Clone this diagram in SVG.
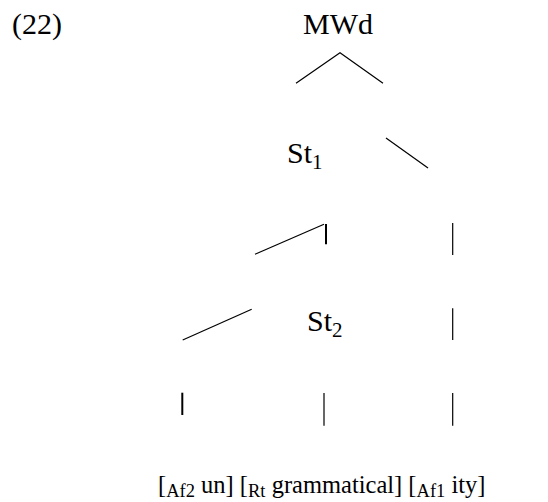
<svg xmlns="http://www.w3.org/2000/svg" width="548" height="502" viewBox="0 0 548 502">
<style>
.t{font-family:"Liberation Serif","Times New Roman",serif;font-size:30px;fill:#000}
.b{font-family:"Liberation Serif","Times New Roman",serif;font-size:24.5px;fill:#000}
.sub{font-size:21px}
.sb{font-size:18.5px}
.ln{stroke:#000;stroke-width:1.2;fill:none}
.tk{stroke:#000;stroke-width:2;fill:none}
</style>
<rect width="548" height="502" fill="#fff"/>
<g id="label"><text class="t" x="12" y="34">(22)</text></g>
<g id="mwd"><text class="t" x="338" y="34" text-anchor="middle">MWd</text></g>
<g id="st1"><text class="t" x="287" y="163">St<tspan class="sub" dy="6">1</tspan></text></g>
<g id="st2"><text class="t" x="307" y="331">St<tspan class="sub" dy="6">2</tspan></text></g>
<g id="bottom"><text class="b" x="158" y="493">[<tspan class="sb" dy="4">Af2</tspan><tspan dy="-4"> un] [</tspan><tspan class="sb" dy="4">Rt</tspan><tspan dy="-4"> grammatical] [</tspan><tspan class="sb" dy="4">Af1</tspan><tspan dy="-4"> ity]</tspan></text></g>
<g id="connectors">
<polyline class="ln" points="296,83.3 340,52.7 383,83.3"/>
<line class="ln" x1="386" y1="138" x2="428" y2="168"/>
<line class="ln" x1="255" y1="254.3" x2="324" y2="224.3"/>
<line class="tk" x1="326" y1="224" x2="326" y2="244.3"/>
<line class="ln" x1="452.7" y1="223" x2="452.7" y2="255"/>
<line class="ln" x1="182.7" y1="340" x2="251.7" y2="309.3"/>
<line class="ln" x1="452.7" y1="308.3" x2="452.7" y2="340"/>
<line class="tk" x1="182.3" y1="392.7" x2="182.3" y2="415"/>
<line class="ln" x1="324" y1="393" x2="324" y2="425.7"/>
<line class="ln" x1="452.7" y1="393" x2="452.7" y2="425.7"/>
</g>
</svg>
